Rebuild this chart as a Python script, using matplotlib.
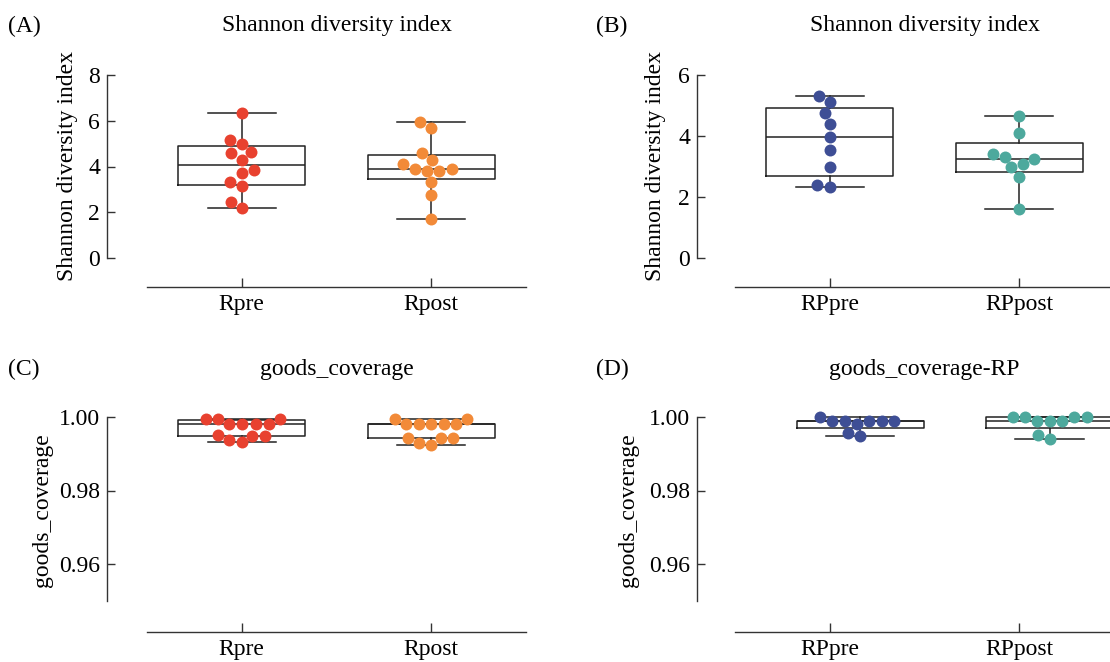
import numpy as np
import matplotlib
matplotlib.use('Agg')
import matplotlib.pyplot as plt
import seaborn as sns

plt.rcParams['font.family'] = ['Liberation Serif', 'DejaVu Serif']
plt.rcParams['font.size'] = 17

# ---------------- data ----------------
groups_R = ['Rpre', 'Rpost']
groups_RP = ['RPpre', 'RPpost']

shannon_Rpre = [6.33, 5.14, 4.98, 4.63, 4.57, 4.30, 3.86, 3.70, 3.34, 3.16, 2.46, 2.19]
shannon_Rpost = [5.93, 5.67, 4.58, 4.28, 4.11, 3.91, 3.81, 3.81, 3.89, 3.32, 2.75, 1.72]
shannon_RPpre = [5.32, 5.11, 4.74, 4.38, 3.97, 3.54, 2.97, 2.38, 2.33]
shannon_RPpost = [4.66, 4.11, 3.40, 3.31, 3.25, 3.07, 2.97, 2.67, 1.61]

goods_Rpre = [0.9995, 0.9995, 0.9995, 0.9980, 0.9980, 0.9980, 0.9980,
              0.9949, 0.9949, 0.9951, 0.9938, 0.9932]
goods_Rpost = [0.9995, 0.9995, 0.9980, 0.9980, 0.9980, 0.9980, 0.9980,
               0.9944, 0.9944, 0.9944, 0.9929, 0.9923]
goods_RPpre = [0.9989, 0.9989, 0.9989, 0.9981, 0.9989, 0.9988, 1.0000, 0.99495, 0.9957]
goods_RPpost = [0.9999, 0.9999, 0.9989, 0.9989, 0.9989, 0.9999, 1.0000, 0.9940, 0.9951]

titles = ['Shannon diversity index', 'Shannon diversity index',
          'goods_coverage', 'goods_coverage-RP']
ylabels = ['Shannon diversity index', 'Shannon diversity index',
           'goods_coverage', 'goods_coverage']
panel_tags = ['(A)', '(B)', '(C)', '(D)']

col_Rpre = '#E8412F'
col_Rpost = '#F28A38'
col_RPpre = '#3E4E95'
col_RPpost = '#4DA99D'

# ---------------- figure ----------------
W, H = 1110, 662
fig = plt.figure(figsize=(W / 100, H / 100), dpi=100)


def px_axes(x0, y_bottom, y_top):
    return fig.add_axes([x0 / W, (H - y_bottom) / H, 379 / W, (y_bottom - y_top) / H])


def draw_panel(ax, data, colors, labels, positions, ylim, ybounds, yticks, ytl, left_off):
    for vals, col, pos in zip(data, colors, positions):
        v = np.asarray(vals)
        q1, med, q3 = np.percentile(v, [25, 50, 75], method='weibull')
        stats = [dict(med=med, q1=q1, q3=q3, whislo=v.min(), whishi=v.max(), fliers=[])]
        lp = dict(color='#222222', linewidth=1.1, clip_on=False)
        ax.bxp(stats, positions=[pos], widths=0.67, capwidths=0.36, showfliers=False,
               boxprops=lp, medianprops=lp, whiskerprops=lp, capprops=lp, zorder=1,
               manage_ticks=False)
        sns.swarmplot(x=np.full(len(v), float(pos)), y=v, native_scale=True, orient='x',
                      color=col, size=8.6, ax=ax, zorder=3, clip_on=False)
    ax.set_xlim(-0.5, 1.5)
    ax.set_ylim(*ylim)
    for s in ['top', 'right']:
        ax.spines[s].set_visible(False)
    ax.spines['left'].set_position(('outward', left_off))
    ax.spines['left'].set_bounds(*ybounds)
    for s in ['left', 'bottom']:
        ax.spines[s].set_linewidth(1.0)
        ax.spines[s].set_color('#333333')
    ax.set_yticks(yticks, ytl)
    ax.set_xticks([0, 1], labels)
    ax.tick_params(axis='y', direction='in', length=6, width=1.0, pad=5, colors='#333333',
                   labelcolor='black', labelsize=17)
    ax.tick_params(axis='x', direction='in', length=6.5, width=1.0, pad=5, colors='#333333',
                   labelcolor='black', labelsize=17)
    ax.set_xlabel('')
    ax.set_ylabel('')


axA = px_axes(147, 287, 75)
draw_panel(axA, [shannon_Rpre, shannon_Rpost], [col_Rpre, col_Rpost], groups_R, [0, 1],
           (-29 / 22.875, 8), (0, 8), [0, 2, 4, 6, 8], ['0', '2', '4', '6', '8'], 28.8)

axB = px_axes(735, 287, 75)
draw_panel(axB, [shannon_RPpre, shannon_RPpost], [col_RPpre, col_RPpost], groups_RP, [0, 1],
           (-29 / 30.5, 6), (0, 6), [0, 2, 4, 6], ['0', '2', '4', '6'], 27.4)

axC = px_axes(147, 632, 417)
draw_panel(axC, [goods_Rpre, goods_Rpost], [col_Rpre, col_Rpost], groups_R, [0, 1],
           (0.96 - 68 / 3675, 1.0), (0.95, 1.0), [0.96, 0.98, 1.00],
           ['0.96', '0.98', '1.00'], 28.8)

axD = px_axes(735, 632, 417)
draw_panel(axD, [goods_RPpre, goods_RPpost], [col_RPpre, col_RPpost], groups_RP, [0.16, 1.16],
           (0.96 - 68 / 3675, 1.0), (0.95, 1.0), [0.96, 0.98, 1.00],
           ['0.96', '0.98', '1.00'], 27.4)

# titles, tags, y labels
tag_x = [8, 596, 8, 596]
title_x = [336.5, 924.5, 336.5, 924.5]
row_y = [26, 26, 369, 369]
ylab_x = [67, 655, 43, 629]
ylab_y = [166, 166, 510, 510]
for i in range(4):
    fig.text(tag_x[i] / W, 1 - row_y[i] / H, panel_tags[i], ha='left', va='center', fontsize=17)
    fig.text(title_x[i] / W, 1 - row_y[i] / H, titles[i], ha='center', va='center', fontsize=17)
    fig.text(ylab_x[i] / W, 1 - ylab_y[i] / H, ylabels[i], ha='center', va='center',
             rotation=90, fontsize=17)

fig.savefig('out.png', dpi=100)
